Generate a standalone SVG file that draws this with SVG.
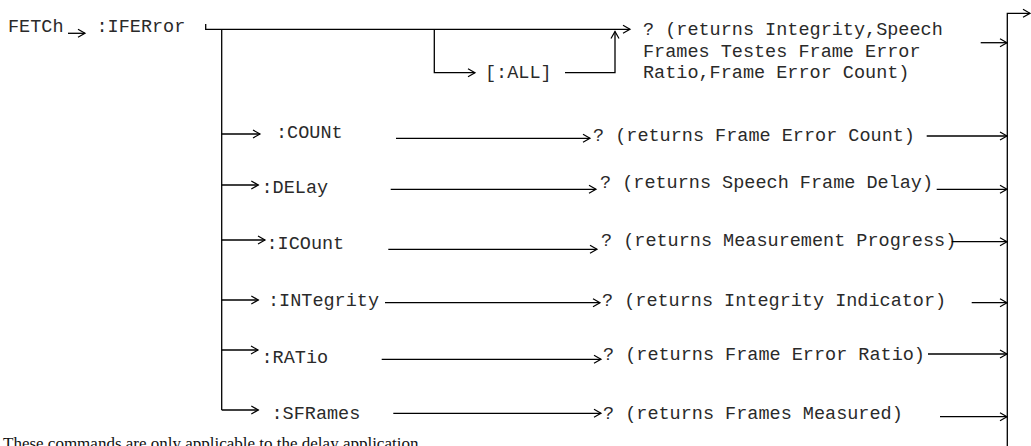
<svg xmlns="http://www.w3.org/2000/svg" width="1031" height="446" viewBox="0 0 1031 446">
<style>
.t{font-family:"Liberation Mono",monospace;font-size:18.5px;fill:#2a2a2a}
.n{font-family:"Liberation Serif",serif;font-size:17px;fill:#111}
.c{fill:none;stroke:#000;stroke-width:1.3}
</style>
<defs>
<marker id="ah" markerUnits="userSpaceOnUse" markerWidth="12" markerHeight="12" viewBox="-8 -6 10 12" refX="0" refY="0" orient="auto">
<path d="M-7,-4 L0,0 L-7,4" fill="none" stroke="#000" stroke-width="1.2"/>
</marker>
</defs>
<rect width="1031" height="446" fill="#fff"/>
<g id="root">
<text class="t" x="8" y="32">FETCh</text>
<text class="t" x="96.5" y="32">:IFERror</text>
</g>
<g id="all">
<text class="t" x="485" y="78">[:ALL]</text>
</g>
<g id="ret-all">
<text class="t" x="643" y="35">? (returns Integrity,Speech</text>
<text class="t" x="643" y="57">Frames Testes Frame Error</text>
<text class="t" x="643" y="78">Ratio,Frame Error Count)</text>
</g>
<g id="count">
<text class="t" x="276" y="138">:COUNt</text>
<text class="t" x="593" y="141">? (returns Frame Error Count)</text>
</g>
<g id="delay">
<text class="t" x="261.5" y="193">:DELay</text>
<text class="t" x="600" y="188">? (returns Speech Frame Delay)</text>
</g>
<g id="icount">
<text class="t" x="266.5" y="249">:ICOunt</text>
<text class="t" x="601" y="246">? (returns Measurement Progress)</text>
</g>
<g id="integrity">
<text class="t" x="268" y="306">:INTegrity</text>
<text class="t" x="602" y="306">? (returns Integrity Indicator)</text>
</g>
<g id="ratio">
<text class="t" x="261.5" y="363">:RATio</text>
<text class="t" x="603" y="360">? (returns Frame Error Ratio)</text>
</g>
<g id="sframes">
<text class="t" x="271.5" y="419">:SFRames</text>
<text class="t" x="603" y="419">? (returns Frames Measured)</text>
</g>
<g id="note">
<text class="n" x="3" y="449">These commands are only applicable to the delay application.</text>
</g>
<g id="connectors">
<path class="c" d="M68,33.3 H85" marker-end="url(#ah)"/>
<path class="c" d="M205.7,24 V29.3 H630" marker-end="url(#ah)"/>
<path class="c" d="M434.3,29.3 V72.7 H475" marker-end="url(#ah)"/>
<path class="c" d="M565,72.7 H615 V31.5" marker-end="url(#ah)"/>
<path class="c" d="M221.7,29.3 V410"/>
<path class="c" d="M221.7,134 H260" marker-end="url(#ah)"/>
<path class="c" d="M396,138.3 H590" marker-end="url(#ah)"/>
<path class="c" d="M926.7,136 H1007" marker-end="url(#ah)"/>
<path class="c" d="M221.7,185 H258.3" marker-end="url(#ah)"/>
<path class="c" d="M390.7,189.3 H596" marker-end="url(#ah)"/>
<path class="c" d="M936.7,189.3 H1007" marker-end="url(#ah)"/>
<path class="c" d="M221.7,240 H265" marker-end="url(#ah)"/>
<path class="c" d="M388.3,249.3 H597" marker-end="url(#ah)"/>
<path class="c" d="M951.7,241.7 H1007" marker-end="url(#ah)"/>
<path class="c" d="M221.7,300 H258.3" marker-end="url(#ah)"/>
<path class="c" d="M385,302.7 H600" marker-end="url(#ah)"/>
<path class="c" d="M971.7,302.7 H1007" marker-end="url(#ah)"/>
<path class="c" d="M221.7,350 H258" marker-end="url(#ah)"/>
<path class="c" d="M381.7,359.3 H601" marker-end="url(#ah)"/>
<path class="c" d="M928,354 H1007" marker-end="url(#ah)"/>
<path class="c" d="M221.7,410 H258.3" marker-end="url(#ah)"/>
<path class="c" d="M393.3,413.3 H601" marker-end="url(#ah)"/>
<path class="c" d="M940,416.7 H1007" marker-end="url(#ah)"/>
<path class="c" d="M980.7,42.7 H1007" marker-end="url(#ah)"/>
<path class="c" d="M1007.3,446 V13.3 H1030" marker-end="url(#ah)"/>
</g>
</svg>
